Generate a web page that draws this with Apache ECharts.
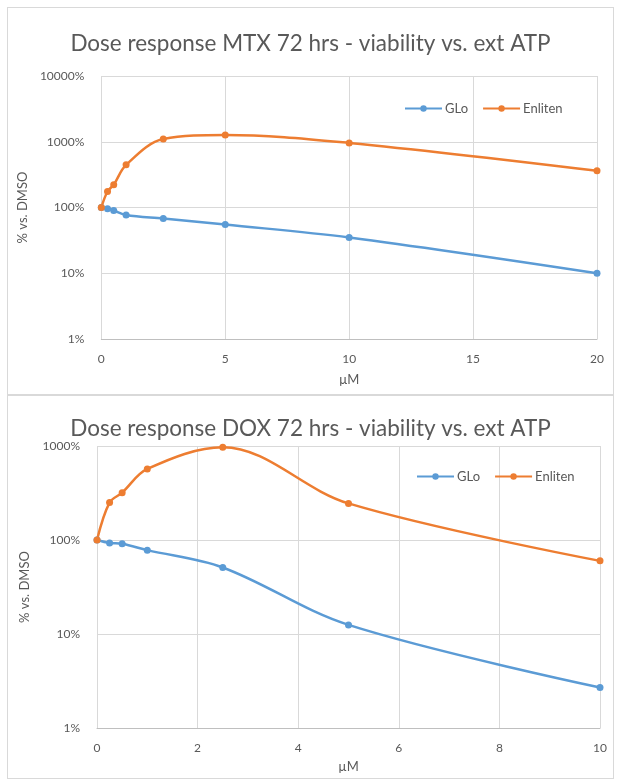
<!DOCTYPE html>
<html>
<head>
<meta charset="utf-8">
<script src="https://cdn.jsdelivr.net/npm/echarts@6/dist/echarts.min.js"></script>
<style>
  html, body { margin: 0; padding: 0; background: #ffffff; width: 621px; height: 782px; overflow: hidden; }
  .panel { position: absolute; border: 1px solid #d9d9d9; background: #fff; box-sizing: border-box; }
  #c1 { left: 7px; top: 7px; width: 607px; height: 388px; }
  #c2 { left: 7px; top: 395px; width: 607px; height: 384px; }
</style>
</head>
<body>
<div id="c1" class="panel"></div>
<div id="c2" class="panel"></div>
<script>
// ---- Data: MTX (top chart) ----
const mtxTitle = 'Dose response MTX 72 hrs - viability vs. ext ATP';
const mtxDose = [0, 0.25, 0.5, 1, 2.5, 5, 10, 20];
const mtxGlo = [100, 96, 90, 77, 68, 55, 35, 10];
const mtxEnliten = [100, 175, 222, 445, 1100, 1270, 960, 362];
const mtxXTicks = { min: 0, max: 20, interval: 5 };
const mtxYTicks = { min: 1, max: 10000 };

// ---- Data: DOX (bottom chart) ----
const doxTitle = 'Dose response DOX 72 hrs - viability vs. ext ATP';
const doxDose = [0, 0.25, 0.5, 1, 2.5, 5, 10];
const doxGlo = [100, 93, 91, 78, 51, 12.5, 2.7];
const doxEnliten = [100, 250, 319, 570, 970, 245, 60];
const doxXTicks = { min: 0, max: 10, interval: 2 };
const doxYTicks = { min: 1, max: 1000 };

const seriesNames = ['GLo', 'Enliten'];
const colors = ['#5B9BD5', '#ED7D31'];
const FONT = 'Lato, "Open Sans", sans-serif';
const TXT = '#595959';

function pairs(xs, ys) { return xs.map((x, i) => [x, ys[i]]); }

function makeOption(cfg) {
  return {
    animation: false,
    color: colors,
    textStyle: { fontFamily: FONT },
    title: {
      text: cfg.title, left: 'center', top: cfg.titleTop,
      textStyle: { fontFamily: FONT, fontSize: 22.5, fontWeight: 'normal', color: TXT }
    },
    legend: {
      data: seriesNames, left: cfg.legendLeft, top: cfg.legendTop,
      itemWidth: 37, itemHeight: 8, itemGap: 14,
      textStyle: { fontFamily: FONT, fontSize: 13, color: TXT, padding: [0, 0, 0, -2] }
    },
    grid: cfg.grid,
    xAxis: {
      type: 'value', min: cfg.x.min, max: cfg.x.max, interval: cfg.x.interval,
      name: 'µM', nameLocation: 'middle', nameGap: cfg.xNameGap,
      nameTextStyle: { fontFamily: FONT, fontSize: 13, color: TXT },
      axisLine: { show: true, lineStyle: { color: '#bfbfbf', width: 1 } },
      axisTick: { show: false },
      axisLabel: { fontFamily: FONT, fontSize: 12, color: TXT, margin: 14 },
      splitLine: { show: true, lineStyle: { color: '#d9d9d9', width: 1 } }
    },
    yAxis: {
      type: 'log', logBase: 10, min: cfg.y.min, max: cfg.y.max,
      name: '% vs. DMSO', nameLocation: 'middle', nameGap: 66,
      nameTextStyle: { fontFamily: FONT, fontSize: 13, color: TXT },
      axisLine: { show: false },
      axisTick: { show: false },
      minorTick: { show: false },
      axisLabel: { fontFamily: FONT, fontSize: 12, color: TXT, margin: 17,
        formatter: function (v) { return Math.round(v) + '%'; } },
      splitLine: { show: true, lineStyle: { color: '#d9d9d9', width: 1 } }
    },
    series: [
      {
        name: seriesNames[0], type: 'line', smooth: 0.35,
        data: pairs(cfg.dose, cfg.glo),
        symbol: 'circle', symbolSize: 7,
        lineStyle: { width: 2.5, color: colors[0] },
        itemStyle: { color: colors[0] }
      },
      {
        name: seriesNames[1], type: 'line', smooth: 0.35,
        data: pairs(cfg.dose, cfg.enliten),
        symbol: 'circle', symbolSize: 7,
        lineStyle: { width: 2.5, color: colors[1] },
        itemStyle: { color: colors[1] }
      }
    ]
  };
}

const chart1 = echarts.init(document.getElementById('c1'));
chart1.setOption(makeOption({
  title: mtxTitle, titleTop: 19,
  legendLeft: 391, legendTop: 89,
  grid: { left: 88, right: 16, top: 68, bottom: 55 },
  x: mtxXTicks, y: mtxYTicks, xNameGap: 34,
  dose: mtxDose, glo: mtxGlo, enliten: mtxEnliten
}));

const chart2 = echarts.init(document.getElementById('c2'));
chart2.setOption(makeOption({
  title: doxTitle, titleTop: 16,
  legendLeft: 403, legendTop: 69,
  grid: { left: 89, right: 13, top: 50, bottom: 47 },
  x: doxXTicks, y: doxYTicks, xNameGap: 32,
  dose: doxDose, glo: doxGlo, enliten: doxEnliten
}));
</script>
</body>
</html>
